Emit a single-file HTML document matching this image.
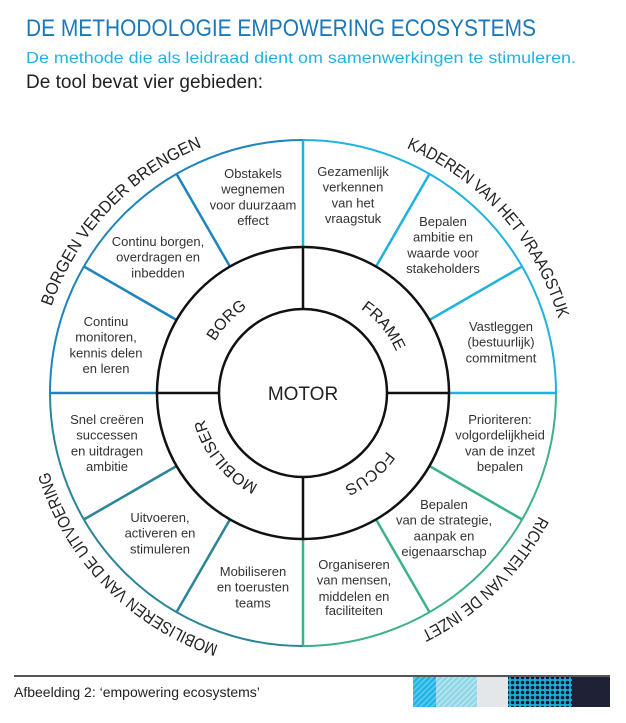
<!DOCTYPE html>
<html><head><meta charset="utf-8"><style>
html,body{margin:0;padding:0;background:#fff;width:626px;height:723px;overflow:hidden}
svg{display:block}
</style></head><body>
<svg width="626" height="723" viewBox="0 0 626 723" xmlns="http://www.w3.org/2000/svg" font-family="Liberation Sans, Arial, sans-serif">
<defs>
<pattern id="h1" width="4" height="4" patternUnits="userSpaceOnUse" patternTransform="rotate(45)"><rect width="4" height="4" fill="#22b4e4"/><rect width="1.5" height="4" fill="#5fcdef"/></pattern>
<pattern id="h2" width="4" height="4" patternUnits="userSpaceOnUse" patternTransform="rotate(45)"><rect width="4" height="4" fill="#8fd6e6"/><rect width="1.5" height="4" fill="#b8e6f0"/></pattern>
<pattern id="dt" width="5" height="5" patternUnits="userSpaceOnUse"><rect width="5" height="5" fill="#1ab0dc"/><circle cx="2.5" cy="2.5" r="1.8" fill="#0d1a2c"/></pattern>
<path id="rc" d="M201,393 A102,102 0 1 1 405,393 A102,102 0 1 1 201,393"/>
<path id="oc" d="M37,393 A266,266 0 1 1 569,393 A266,266 0 1 1 37,393"/>
</defs>

<text x="26" y="36" font-size="24" fill="#1b78b8" textLength="510" lengthAdjust="spacingAndGlyphs">DE METHODOLOGIE EMPOWERING ECOSYSTEMS</text>
<text x="26" y="63" font-size="16" fill="#1fb3e2" textLength="550" lengthAdjust="spacingAndGlyphs">De methode die als leidraad dient om samenwerkingen te stimuleren.</text>
<text x="26" y="88" font-size="19" fill="#222" textLength="237" lengthAdjust="spacingAndGlyphs">De tool bevat vier gebieden:</text>

<!-- outer arcs -->
<g fill="none" stroke-width="2">
<path d="M50,393 A253,253 0 0 1 303,140" stroke="#1e84bc"/>
<path d="M303,140 A253,253 0 0 1 556,393" stroke="#1fb2de"/>
<path d="M556,393 A253,253 0 0 1 303,646" stroke="#3cb28a"/>
<path d="M303,646 A253,253 0 0 1 50,393" stroke="#2a8597"/>
</g>
<!-- segment lines -->
<g stroke-width="2.5">
<g stroke="#1e84bc"><line x1="157" y1="393" x2="50" y2="393"/><line x1="176.6" y1="320" x2="83.9" y2="266.5"/><line x1="230" y1="266.6" x2="176.5" y2="173.9"/></g>
<g stroke="#1fb2de"><line x1="303" y1="247" x2="303" y2="140"/><line x1="376" y1="266.6" x2="429.5" y2="173.9"/><line x1="429.4" y1="320" x2="522.1" y2="266.5"/><line x1="449" y1="393" x2="556" y2="393"/></g>
<g stroke="#3cb28a"><line x1="429.4" y1="466" x2="522.1" y2="519.5"/><line x1="376" y1="519.4" x2="429.5" y2="612.1"/><line x1="303" y1="539" x2="303" y2="646"/></g>
<g stroke="#2a8597"><line x1="230" y1="519.4" x2="176.5" y2="612.1"/><line x1="176.6" y1="466" x2="83.9" y2="519.5"/></g>
</g>
<!-- inner rings -->
<g fill="none" stroke="#111" stroke-width="2.5">
<circle cx="303" cy="393" r="146"/>
<circle cx="303" cy="393" r="84"/>
<line x1="387" y1="393" x2="449" y2="393"/><line x1="219" y1="393" x2="157" y2="393"/>
<line x1="303" y1="309" x2="303" y2="247"/><line x1="303" y1="477" x2="303" y2="539"/>
</g>
<text x="303" y="400" font-size="19" text-anchor="middle" fill="#222">MOTOR</text>

<g font-size="16" fill="#222" text-anchor="middle">
<text><textPath href="#rc" startOffset="77.4">BORG</textPath></text>
<text><textPath href="#rc" startOffset="249.2">FRAME</textPath></text>
<text><textPath href="#rc" startOffset="409.5">FOCUS</textPath></text>
<text><textPath href="#rc" startOffset="569.7">MOBILISER</textPath></text>
</g>
<g font-size="17" fill="#222" text-anchor="middle">
<text><textPath href="#oc" startOffset="201" textLength="226" lengthAdjust="spacingAndGlyphs">BORGEN VERDER BRENGEN</textPath></text>
<text><textPath href="#oc" startOffset="642" textLength="236" lengthAdjust="spacingAndGlyphs">KADEREN VAN HET VRAAGSTUK</textPath></text>
<text><textPath href="#oc" startOffset="1047" textLength="168" lengthAdjust="spacingAndGlyphs">RICHTEN VAN DE INZET</textPath></text>
<text><textPath href="#oc" startOffset="1465" textLength="252" lengthAdjust="spacingAndGlyphs">MOBILISEREN VAN DE UITVOERING</textPath></text>
</g>

<g font-size="13" fill="#333" text-anchor="middle">
<text x="253" y="178"><tspan x="253">Obstakels</tspan><tspan x="253" dy="15.7">wegnemen</tspan><tspan x="253" dy="15.7">voor duurzaam</tspan><tspan x="253" dy="15.7">effect</tspan></text>
<text x="353" y="176"><tspan x="353">Gezamenlijk</tspan><tspan x="353" dy="15.7">verkennen</tspan><tspan x="353" dy="15.7">van het</tspan><tspan x="353" dy="15.7">vraagstuk</tspan></text>
<text x="443" y="226"><tspan x="443">Bepalen</tspan><tspan x="443" dy="15.7">ambitie en</tspan><tspan x="443" dy="15.7">waarde voor</tspan><tspan x="443" dy="15.7">stakeholders</tspan></text>
<text x="501" y="331"><tspan x="501">Vastleggen</tspan><tspan x="501" dy="15.7">(bestuurlijk)</tspan><tspan x="501" dy="15.7">commitment</tspan></text>
<text x="500" y="424"><tspan x="500">Prioriteren:</tspan><tspan x="500" dy="15.7">volgordelijkheid</tspan><tspan x="500" dy="15.7">van de inzet</tspan><tspan x="500" dy="15.7">bepalen</tspan></text>
<text x="444" y="509"><tspan x="444">Bepalen</tspan><tspan x="444" dy="15.7">van de strategie,</tspan><tspan x="444" dy="15.7">aanpak en</tspan><tspan x="444" dy="15.7">eigenaarschap</tspan></text>
<text x="354" y="569"><tspan x="354">Organiseren</tspan><tspan x="354" dy="15.7">van mensen,</tspan><tspan x="354" dy="16.5">middelen en</tspan><tspan x="354" dy="14">faciliteiten</tspan></text>
<text x="253" y="576"><tspan x="253">Mobiliseren</tspan><tspan x="253" dy="15.7">en toerusten</tspan><tspan x="253" dy="15.7">teams</tspan></text>
<text x="160" y="522"><tspan x="160">Uitvoeren,</tspan><tspan x="160" dy="15.7">activeren en</tspan><tspan x="160" dy="15.7">stimuleren</tspan></text>
<text x="107" y="424"><tspan x="107">Snel creëren</tspan><tspan x="107" dy="15.7">successen</tspan><tspan x="107" dy="15.7">en uitdragen</tspan><tspan x="107" dy="15.7">ambitie</tspan></text>
<text x="106" y="326"><tspan x="106">Continu</tspan><tspan x="106" dy="15.7">monitoren,</tspan><tspan x="106" dy="15.7">kennis delen</tspan><tspan x="106" dy="15.7">en leren</tspan></text>
<text x="158" y="246"><tspan x="158">Continu borgen,</tspan><tspan x="158" dy="15.7">overdragen en</tspan><tspan x="158" dy="15.7">inbedden</tspan></text>
</g>

<line x1="14" y1="676" x2="610" y2="676" stroke="#555" stroke-width="2"/>
<text x="14" y="697" font-size="14" fill="#222">Afbeelding 2:  ‘empowering ecosystems’</text>
<rect x="413" y="677" width="23" height="30" fill="url(#h1)"/>
<rect x="436" y="677" width="41" height="30" fill="url(#h2)"/>
<rect x="477" y="677" width="31" height="30" fill="#e4e7ea"/>
<rect x="508" y="677" width="64" height="30" fill="url(#dt)"/>
<rect x="572" y="677" width="38" height="30" fill="#1f2236"/>
</svg>
</body></html>
